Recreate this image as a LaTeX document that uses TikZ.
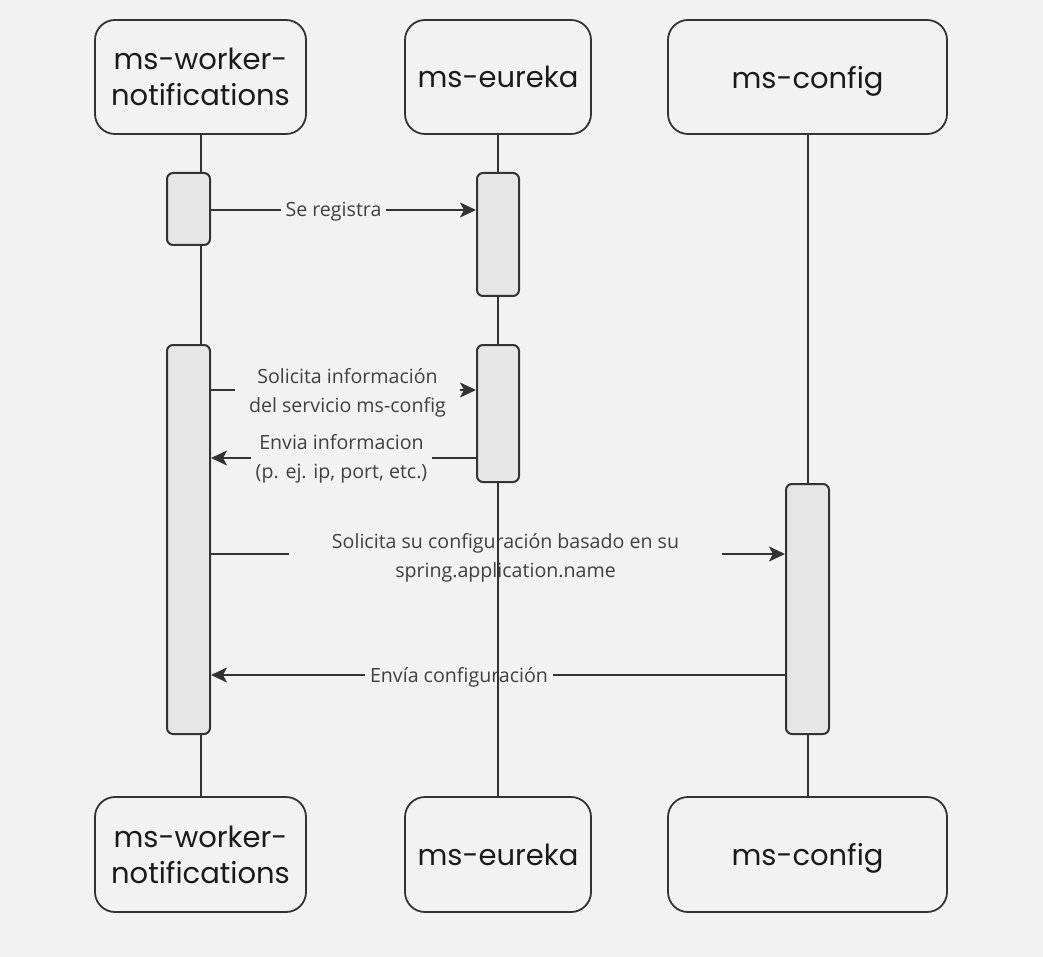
\documentclass[tikz,border=0pt]{standalone}
\usepackage{fontspec}
\usetikzlibrary{arrows.meta}
\newfontfamily\headfont{Poppins}
\newfontfamily\labfont{Open Sans}
\definecolor{bg}{HTML}{F2F2F2}
\definecolor{actc}{HTML}{E6E6E6}
\definecolor{lc}{HTML}{333333}
\definecolor{txt}{HTML}{404040}
\definecolor{htxt}{HTML}{1A1A1A}
\tikzset{
  head/.style={draw=lc, line width=1.8pt, rounded corners=20pt, fill=bg,
    font=\headfont\fontsize{29}{36}\selectfont, text=htxt, align=center, inner sep=0pt},
  act/.style={draw=lc, line width=2pt, rounded corners=6pt, fill=actc, inner sep=0pt},
  life/.style={draw=lc, line width=2pt},
  msg/.style={draw=lc, line width=2pt, -{Stealth[length=16pt,width=15pt,inset=4pt]}},
  lab/.style={font=\labfont\fontsize{19.6}{29}\selectfont, text=txt, align=center, fill=bg, inner ysep=2pt},
}
\begin{document}
\begin{tikzpicture}[x=1pt,y=-1pt]
\fill[bg] (0,0) rectangle (1043,957);
\useasboundingbox (0,0) rectangle (1043,957);
% headers
\node[head, minimum width=211pt, minimum height=114pt] (wh) at (200.5,77) {ms-worker-\\notifications};
\node[head, minimum width=186pt, minimum height=114pt] (eh) at (498,77) {ms-eureka};
\node[head, minimum width=279pt, minimum height=114pt, text depth=0pt] (ch) at (807.5,77) {ms-config};
% footers
\node[head, minimum width=211pt, minimum height=115pt] (wf) at (200.5,854.5) {ms-worker-\\notifications};
\node[head, minimum width=186pt, minimum height=115pt] (ef) at (498,854.5) {ms-eureka};
\node[head, minimum width=279pt, minimum height=115pt, text depth=0pt] (cf) at (807.5,854.5) {ms-config};
% lifelines
\draw[life] (wh.south) -- (wf.north);
\draw[life] (eh.south) -- (ef.north);
\draw[life] (ch.south) -- (cf.north);
% activations
\node[act, minimum width=43pt, minimum height=72pt] (w1) at (188.5,209) {};
\node[act, minimum width=42pt, minimum height=123pt] (e1) at (498,234.5) {};
\node[act, minimum width=43pt, minimum height=389pt] (w2) at (188.5,539.5) {};
\node[act, minimum width=42pt, minimum height=137pt] (e2) at (498,413.5) {};
\node[act, minimum width=43pt, minimum height=250pt] (c1) at (807.5,609) {};
% messages
\draw[msg] (w1.east |- 0,210) -- (e1.west |- 0,210);
\node[lab, inner xsep=5pt] (l1) at (333.5,211.5) {Se registra};
\draw[msg] (w2.east |- 0,390) -- (e2.west |- 0,390);
\node[lab, inner xsep=14pt] (l2) at (347.5,392.5) {Solicita información\\del servicio ms-config};
\draw[msg] (e2.west |- 0,458) -- (w2.east |- 0,458);
\node[lab, inner xsep=5pt] (l3) at (341.5,459) {Envia informacion\\(p. ej. ip, port, etc.)};
\draw[msg] (w2.east |- 0,554) -- (c1.west |- 0,554);
\node[lab, inner xsep=43pt] (l4) at (505.5,557.5) {Solicita su configuración basado en su\\spring.application.name};
\draw[msg] (c1.west |- 0,675) -- (w2.east |- 0,675);
\node[lab, inner xsep=5pt] (l5) at (459,677) {Envía configuración};
% eureka lifeline over the labels
\draw[life] (e2.south) -- (ef.north);
\end{tikzpicture}
\end{document}
